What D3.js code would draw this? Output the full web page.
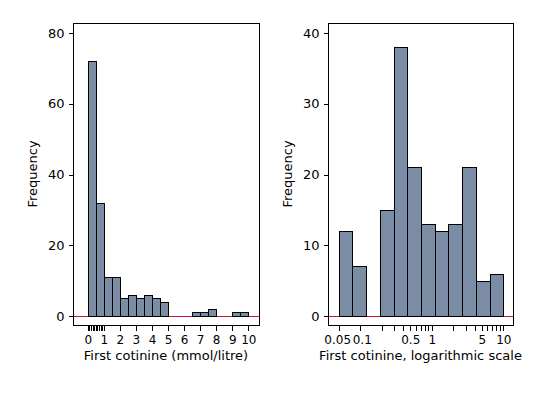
<!DOCTYPE html>
<html>
<head>
<meta charset="utf-8">
<script src="https://cdn.jsdelivr.net/npm/d3@7"></script>
<style>
  body { margin: 0; background: #fff; }
  text { font-family: "DejaVu Sans", "Liberation Sans", Arial, sans-serif; font-size: 13px; fill: #000; }
</style>
</head>
<body>
<div id="chart"></div>
<script>
// linear histogram: bins of 0.5 mmol/litre from 0 to 10
var linBinWidth = 0.5;
var linCounts = [72, 32, 11, 11, 5, 6, 5, 6, 5, 4, 0, 0, 0, 1, 1, 2, 0, 0, 1, 1];
var linTicks = [0, 1, 2, 3, 4, 5, 6, 7, 8, 9, 10];
var linMinorTicks = [0.1, 0.2, 0.3, 0.4, 0.5, 0.6, 0.7, 0.8, 0.9];
var linYTicks = [0, 20, 40, 60, 80];

// log histogram: 12 equal-width bins on log scale from 0.05 to 10
var logMin = 0.05, logMax = 10;
var logCounts = [12, 7, 0, 15, 38, 21, 13, 12, 13, 21, 5, 6];
var logTicks = [0.05, 0.1, 0.5, 1, 5, 10];
var logTickLabels = ["0.05", "0.1", "0.5", "1", "5", "10"];
var logMinorTicks = [0.2, 0.3, 0.4, 0.6, 0.7, 0.8, 0.9, 2, 3, 4, 6, 7, 8, 9];
var logYTicks = [0, 10, 20, 30, 40];

var width = 537, height = 393;
var barFill = "#7a8da5";
var zeroColor = "#d0103a";

var svg = d3.select("#chart").append("svg")
    .attr("width", width)
    .attr("height", height);

// draws one panel: frame, zero line, bars, axes
function panel(opt) {
    var g = svg.append("g");
    var y = d3.scaleLinear().domain(opt.yDomain).range([316, 33]);

    // frame
    g.append("rect")
        .attr("x", opt.left + 0.5).attr("y", 23.5)
        .attr("width", opt.right - opt.left).attr("height", 302)
        .attr("fill", "none").attr("stroke", "#000");

    // zero line
    g.append("line")
        .attr("x1", opt.left + 1).attr("x2", opt.right)
        .attr("y1", y(0) + 0.5).attr("y2", y(0) + 0.5)
        .attr("stroke", zeroColor);

    // bars
    g.selectAll("rect.bar")
        .data(opt.bins.filter(function (d) { return d.count > 0; }))
        .enter().append("rect")
        .attr("class", "bar")
        .attr("x", function (d) { return Math.round(opt.x(d.x0)) + 0.5; })
        .attr("width", function (d) { return Math.round(opt.x(d.x1)) - Math.round(opt.x(d.x0)); })
        .attr("y", function (d) { return Math.round(y(d.count)) + 0.5; })
        .attr("height", function (d) { return Math.round(y(0)) - Math.round(y(d.count)); })
        .attr("fill", barFill)
        .attr("stroke", "#000");

    // y axis
    var yAxis = d3.axisLeft(y).tickValues(opt.yTicks).tickSize(5).tickPadding(4);
    var ya = g.append("g")
        .attr("transform", "translate(" + (opt.left + 0.5) + ",0)")
        .call(yAxis);
    ya.select(".domain").remove();
    ya.selectAll("text").style("font-size", "13px").attr("font-family", null);

    // x axis
    var xAxis = d3.axisBottom(opt.x).tickValues(opt.xTicks).tickSize(5).tickPadding(5)
        .tickFormat(function (d, i) { return opt.xLabels ? opt.xLabels[i] : d; });
    var xa = g.append("g")
        .attr("transform", "translate(0," + 325.5 + ")")
        .call(xAxis);
    xa.select(".domain").remove();
    xa.selectAll("text")
        .style("font-size", "12px")
        .attr("font-family", null)
        .attr("x", function (d, i) { return opt.labelNudge ? opt.labelNudge[i] : 0; });

    var xm = g.append("g")
        .attr("transform", "translate(0," + 325.5 + ")")
        .call(d3.axisBottom(opt.x).tickValues(opt.xMinor).tickSize(5).tickFormat(""));
    xm.select(".domain").remove();

    g.selectAll(".tick line").attr("shape-rendering", "crispEdges");

    // titles
    g.append("text")
        .attr("x", (opt.left + opt.right) / 2)
        .attr("y", 359.5)
        .attr("text-anchor", "middle")
        .text(opt.xTitle);

    g.append("text")
        .attr("transform", "translate(" + opt.yTitleX + ",174) rotate(-90)")
        .attr("text-anchor", "middle")
        .text("Frequency");
}

var xLin = d3.scaleLinear().domain([0, 10]).range([87.7, 248.3]);
var linBins = linCounts.map(function (c, i) {
    return { x0: i * linBinWidth, x1: (i + 1) * linBinWidth, count: c };
});

panel({
    left: 73, right: 259,
    x: xLin, yDomain: [0, 80], yTicks: linYTicks,
    xTicks: linTicks, xMinor: linMinorTicks,
    bins: linBins,
    xTitle: "First cotinine (mmol/litre)",
    yTitleX: 37
});

var xLog = d3.scaleLog().domain([logMin, logMax]).range([338.7, 503.3]);
var logStep = Math.log10(logMax / logMin) / logCounts.length;
var logBins = logCounts.map(function (c, i) {
    return {
        x0: logMin * Math.pow(10, i * logStep),
        x1: logMin * Math.pow(10, (i + 1) * logStep),
        count: c
    };
});

panel({
    left: 328, right: 513,
    x: xLog, yDomain: [0, 40], yTicks: logYTicks,
    xTicks: logTicks, xLabels: logTickLabels, xMinor: logMinorTicks,
    labelNudge: [-1.5, 1.5, 0, 0, 0, 0],
    bins: logBins,
    xTitle: "First cotinine, logarithmic scale",
    yTitleX: 292
});
</script>
</body>
</html>
